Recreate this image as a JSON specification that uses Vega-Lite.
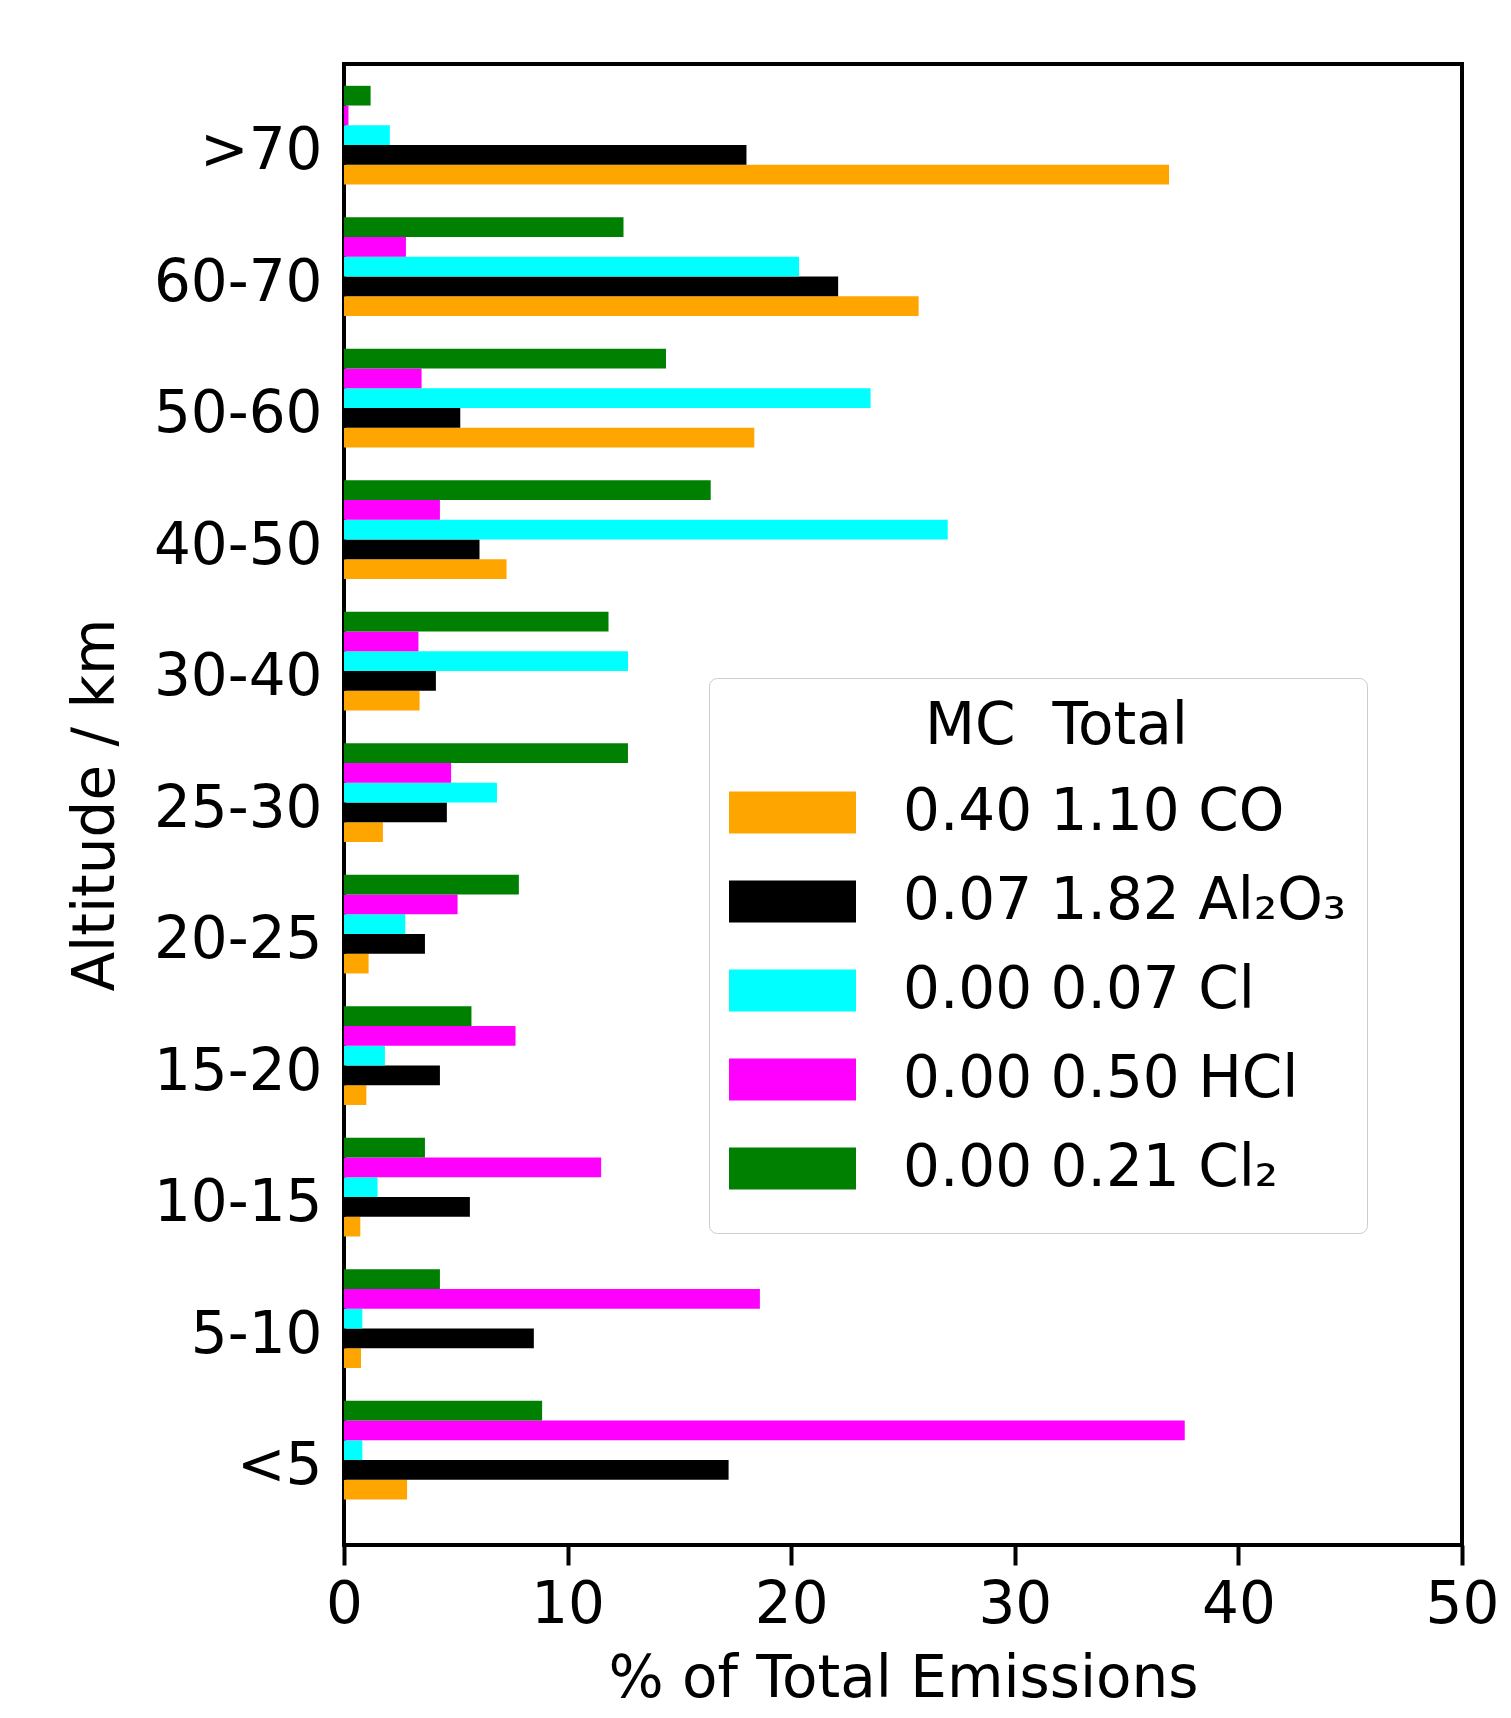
{
  "$schema": "https://vega.github.io/schema/vega-lite/v6.json",
  "autosize": {"type": "none"},
  "padding": {"left": 344, "top": 64, "right": 49, "bottom": 173},
  "width": 1118,
  "height": 1481,
  "background": "white",
  "config": {
    "font": "DejaVu Sans",
    "view": {"stroke": "black", "strokeWidth": 4}
  },
  "data": {
    "values": [
      {"alt": ">70", "sp": "CO", "v": 36.9},
      {"alt": ">70", "sp": "Al2O3", "v": 18.0},
      {"alt": ">70", "sp": "Cl", "v": 2.05},
      {"alt": ">70", "sp": "HCl", "v": 0.2},
      {"alt": ">70", "sp": "Cl2", "v": 1.19},
      {"alt": "60-70", "sp": "CO", "v": 25.7},
      {"alt": "60-70", "sp": "Al2O3", "v": 22.1},
      {"alt": "60-70", "sp": "Cl", "v": 20.35},
      {"alt": "60-70", "sp": "HCl", "v": 2.77},
      {"alt": "60-70", "sp": "Cl2", "v": 12.5},
      {"alt": "50-60", "sp": "CO", "v": 18.35},
      {"alt": "50-60", "sp": "Al2O3", "v": 5.2},
      {"alt": "50-60", "sp": "Cl", "v": 23.55},
      {"alt": "50-60", "sp": "HCl", "v": 3.47},
      {"alt": "50-60", "sp": "Cl2", "v": 14.4},
      {"alt": "40-50", "sp": "CO", "v": 7.27},
      {"alt": "40-50", "sp": "Al2O3", "v": 6.06},
      {"alt": "40-50", "sp": "Cl", "v": 27.0},
      {"alt": "40-50", "sp": "HCl", "v": 4.29},
      {"alt": "40-50", "sp": "Cl2", "v": 16.4},
      {"alt": "30-40", "sp": "CO", "v": 3.38},
      {"alt": "30-40", "sp": "Al2O3", "v": 4.11},
      {"alt": "30-40", "sp": "Cl", "v": 12.7},
      {"alt": "30-40", "sp": "HCl", "v": 3.33},
      {"alt": "30-40", "sp": "Cl2", "v": 11.83},
      {"alt": "25-30", "sp": "CO", "v": 1.74},
      {"alt": "25-30", "sp": "Al2O3", "v": 4.6},
      {"alt": "25-30", "sp": "Cl", "v": 6.84},
      {"alt": "25-30", "sp": "HCl", "v": 4.79},
      {"alt": "25-30", "sp": "Cl2", "v": 12.7},
      {"alt": "20-25", "sp": "CO", "v": 1.1},
      {"alt": "20-25", "sp": "Al2O3", "v": 3.62},
      {"alt": "20-25", "sp": "Cl", "v": 2.74},
      {"alt": "20-25", "sp": "HCl", "v": 5.08},
      {"alt": "20-25", "sp": "Cl2", "v": 7.82},
      {"alt": "15-20", "sp": "CO", "v": 1.0},
      {"alt": "15-20", "sp": "Al2O3", "v": 4.29},
      {"alt": "15-20", "sp": "Cl", "v": 1.83},
      {"alt": "15-20", "sp": "HCl", "v": 7.67},
      {"alt": "15-20", "sp": "Cl2", "v": 5.7},
      {"alt": "10-15", "sp": "CO", "v": 0.73},
      {"alt": "10-15", "sp": "Al2O3", "v": 5.63},
      {"alt": "10-15", "sp": "Cl", "v": 1.5},
      {"alt": "10-15", "sp": "HCl", "v": 11.5},
      {"alt": "10-15", "sp": "Cl2", "v": 3.62},
      {"alt": "5-10", "sp": "CO", "v": 0.76},
      {"alt": "5-10", "sp": "Al2O3", "v": 8.49},
      {"alt": "5-10", "sp": "Cl", "v": 0.82},
      {"alt": "5-10", "sp": "HCl", "v": 18.6},
      {"alt": "5-10", "sp": "Cl2", "v": 4.29},
      {"alt": "<5", "sp": "CO", "v": 2.82},
      {"alt": "<5", "sp": "Al2O3", "v": 17.2},
      {"alt": "<5", "sp": "Cl", "v": 0.82},
      {"alt": "<5", "sp": "HCl", "v": 37.6},
      {"alt": "<5", "sp": "Cl2", "v": 8.86}
    ]
  },
  "mark": {"type": "bar"},
  "encoding": {
    "y": {
      "field": "alt",
      "type": "nominal",
      "sort": [">70", "60-70", "50-60", "40-50", "30-40", "25-30", "20-25", "15-20", "10-15", "5-10", "<5"],
      "scale": {"type": "band", "paddingInner": 0.25, "paddingOuter": 0.256, "align": 0.324, "round": false},
      "axis": {
        "title": "Altitude / km",
        "titleFontSize": 58,
        "titleFontWeight": "normal",
        "titleColor": "black",
        "titlePadding": 28,
        "labelFontSize": 58,
        "labelColor": "black",
        "labelPadding": 22,
        "labelOffset": 17,
        "ticks": false,
        "domain": false,
        "grid": false
      }
    },
    "yOffset": {
      "field": "sp",
      "type": "nominal",
      "sort": ["Cl2", "HCl", "Cl", "Al2O3", "CO"],
      "scale": {"paddingInner": 0, "paddingOuter": 0}
    },
    "x": {
      "field": "v",
      "type": "quantitative",
      "scale": {"domain": [0, 50], "nice": false, "zero": true},
      "axis": {
        "title": "% of Total Emissions",
        "titleFontSize": 58,
        "titleFontWeight": "normal",
        "titleColor": "black",
        "titlePadding": 16,
        "values": [0, 10, 20, 30, 40, 50],
        "labelFontSize": 58,
        "labelColor": "black",
        "labelPadding": 11,
        "labelFlush": false,
        "tickSize": 20,
        "tickWidth": 4,
        "tickColor": "black",
        "domain": false,
        "grid": false
      }
    },
    "color": {
      "field": "sp",
      "type": "nominal",
      "scale": {
        "domain": ["CO", "Al2O3", "Cl", "HCl", "Cl2"],
        "range": ["#ffa500", "#000000", "#00ffff", "#ff00ff", "#008000"]
      },
      "legend": {
        "orient": "none",
        "legendX": 365,
        "legendY": 614,
        "title": "\u200b\u00a0\u00a0MC\u00a0\u00a0Total",
        "titleFontSize": 58,
        "titleFontWeight": "normal",
        "titleColor": "black",
        "titleAnchor": "middle",
        "titleLimit": 0,
        "titlePadding": 12,
        "labelFontSize": 58,
        "labelColor": "black",
        "labelOffset": 47,
        "labelLimit": 0,
        "labelExpr": "datum.label == 'CO' ? '0.40 1.10 CO' : datum.label == 'Al2O3' ? '0.07 1.82 Al\u2082O\u2083' : datum.label == 'Cl' ? '0.00 0.07 Cl' : datum.label == 'HCl' ? '0.00 0.50 HCl' : '0.00 0.21 Cl\u2082'",
        "symbolType": "M-1,-0.33H1V0.33H-1Z",
        "symbolSize": 16129,
        "symbolStrokeWidth": 0,
        "symbolOpacity": 1,
        "clipHeight": 89,
        "rowPadding": 0,
        "padding": 20,
        "strokeColor": "#cccccc",
        "fillColor": "rgba(255,255,255,0.8)",
        "cornerRadius": 8
      }
    }
  }
}
